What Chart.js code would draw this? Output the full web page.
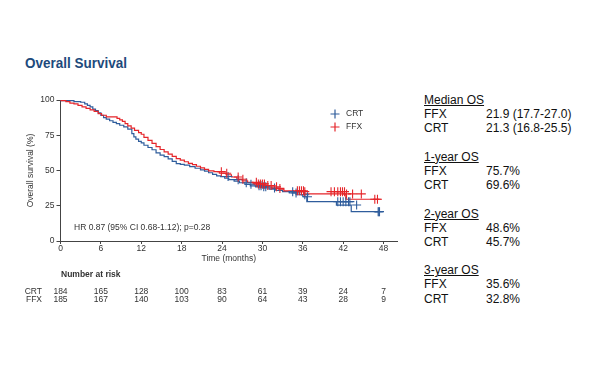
<!DOCTYPE html>
<html lang="en">
<head>
  <meta charset="UTF-8" />
  <title>Overall Survival</title>
  <script src="https://cdn.jsdelivr.net/npm/chart.js"></script>
  <style>
    body {
      margin: 0;
      width: 600px;
      height: 365px;
      background: #ffffff;
      position: relative;
      overflow: hidden;
      font-family: "Liberation Sans", Arial, sans-serif;
    }
    h1 {
      position: absolute;
      left: 25px;
      top: 54px;
      margin: 0;
      font-family: "Liberation Sans", sans-serif;
      font-weight: bold;
      font-size: 15.5px;
      color: #1d4a7c;
      transform: scaleX(0.87);
      transform-origin: left center;
      white-space: nowrap;
    }
    .chart-box {
      position: absolute;
      left: 0;
      top: 80px;
      width: 420px;
      height: 232px;
    }
    .stats {
      position: absolute;
      left: 424px;
      top: 93px;
      font-size: 12px;
      line-height: 14.2px;
      color: #111;
    }
    .stats .row { height: 14.2px; white-space: nowrap; }
    .stats .head { text-decoration: underline; }
    .stats .val { position: absolute; left: 62px; }
  </style>
</head>
<body>
  <h1>Overall Survival</h1>
  <div class="chart-box">
    <canvas id="osChart" width="420" height="232"></canvas>
  </div>
  <div class="stats" id="stats"></div>
  <script>
    // Kaplan-Meier steps (months, % surviving)
    const crtTimes = [0, 2.0, 3.0, 3.6, 4.0, 4.4, 4.8, 5.2, 5.6, 6.0, 6.4, 6.8, 7.3, 7.8, 8.3, 8.8, 9.4, 10.0, 10.6, 10.9, 11.2, 11.6, 12.0, 12.4, 13.0, 13.6, 14.2, 14.8, 15.4, 16.0, 16.6, 17.2, 17.8, 18.4, 19.2, 20.0, 20.8, 21.4, 22.0, 22.6, 23.2, 23.8, 24.4, 25.0, 25.8, 26.6, 27.4, 28.2, 29.0, 30.0, 31.0, 32.0, 33.0, 34.0, 35.0, 36.0, 36.6, 41.0, 43.2, 46.8, 47.5];
    const crtSurv  = [100, 99.5, 98.9, 98.4, 97.3, 96.2, 95.1, 93.5, 92.4, 90.8, 89.1, 87.5, 86.4, 85.3, 84.2, 83.2, 82.1, 81.0, 79.3, 76.1, 73.9, 72.3, 70.7, 69.6, 67.9, 66.3, 64.7, 62.5, 60.9, 59.8, 58.2, 56.5, 54.9, 54.3, 53.8, 52.7, 51.6, 50.5, 49.5, 48.4, 47.3, 46.2, 45.7, 44.6, 43.5, 42.4, 41.3, 40.2, 39.1, 38.4, 37.6, 36.8, 35.9, 35.0, 34.1, 32.8, 31.4, 27.9, 25.5, 20.8, 20.8];
    const ffxTimes = [0, 0.8, 1.4, 2.0, 2.6, 3.2, 3.8, 4.4, 5.0, 5.6, 6.1, 6.8, 8.4, 8.8, 9.2, 9.6, 10.0, 10.5, 11.0, 11.6, 12.0, 12.4, 13.0, 13.6, 14.2, 14.8, 15.4, 16.0, 16.6, 17.2, 17.8, 18.4, 19.0, 19.6, 20.2, 20.8, 21.4, 22.0, 22.8, 23.6, 24.6, 25.4, 26.2, 27.0, 27.8, 28.6, 29.4, 30.4, 31.4, 32.4, 33.2, 34.6, 36.2, 42.4, 46.2, 47.6];
    const ffxSurv  = [100, 99.5, 98.9, 97.8, 97.3, 96.2, 95.1, 94.1, 93.0, 91.9, 90.3, 89.2, 88.1, 87.0, 85.9, 84.9, 83.2, 81.6, 80.0, 78.4, 76.8, 75.7, 73.5, 71.4, 69.2, 67.0, 64.9, 63.2, 61.6, 60.0, 58.4, 57.3, 56.2, 55.1, 54.1, 53.0, 51.9, 50.8, 49.7, 49.2, 48.1, 47.0, 45.4, 43.8, 42.7, 41.6, 40.5, 39.4, 38.4, 37.3, 36.7, 35.6, 35.0, 33.4, 29.6, 29.6];

    // censored observations (months)
    const crtCensor = [24.9, 26.4, 27.6, 28.3, 29.5, 29.8, 30.2, 30.5, 31.8, 34.5, 35.0, 36.3, 36.7, 41.2, 41.6, 42.0, 42.4, 42.8, 43.0, 44.0, 47.2, 47.3, 47.4];
    const ffxCensor = [23.9, 24.7, 26.4, 27.1, 29.1, 29.4, 29.7, 30.0, 30.3, 30.8, 31.3, 32.1, 32.6, 35.2, 35.5, 35.8, 36.1, 36.3, 40.2, 40.7, 41.2, 41.6, 41.9, 42.2, 42.5, 43.4, 44.7, 46.7, 47.1];

    const xTicks = [0, 6, 12, 18, 24, 30, 36, 42, 48];
    const yTicks = [0, 25, 50, 75, 100];

    // number at risk
    const riskTimes = [0, 6, 12, 18, 24, 30, 36, 42, 48];
    const crtRisk = [184, 165, 128, 100, 83, 61, 39, 24, 7];
    const ffxRisk = [185, 167, 140, 103, 90, 64, 43, 28, 9];

    const statBlocks = [
      { head: 'Median OS', ffx: '21.9 (17.7-27.0)', crt: '21.3 (16.8-25.5)' },
      { head: '1-year OS', ffx: '75.7%', crt: '69.6%' },
      { head: '2-year OS', ffx: '48.6%', crt: '45.7%' },
      { head: '3-year OS', ffx: '35.6%', crt: '32.8%' }
    ];

    const blue = '#2f5d9c';
    const red = '#e5252a';
    const textColor = '#333333';
    const font = { family: 'Liberation Sans, Arial, sans-serif', size: 8.5 };

    function survAt(times, surv, t) {
      let s = surv[0];
      for (let i = 0; i < times.length; i++) {
        if (times[i] <= t) s = surv[i];
      }
      return s;
    }

    const stepPts = (times, surv) => times.map((t, i) => ({ x: t, y: surv[i] }));
    const censorPts = (cens, times, surv) => cens.map(t => ({ x: t, y: survAt(times, surv, t) }));

    // stats panel
    let html = '';
    statBlocks.forEach((b, i) => {
      html += `<div class="row head">${b.head}</div>`;
      html += `<div class="row">FFX<span class="val">${b.ffx}</span></div>`;
      html += `<div class="row">CRT<span class="val">${b.crt}</span></div>`;
      if (i < statBlocks.length - 1) html += '<div class="row"></div>';
    });
    document.getElementById('stats').innerHTML = html;

    const extras = {
      id: 'extras',
      afterDraw(chart) {
        const c = chart.ctx;
        const xs = chart.scales.x;
        c.save();
        c.fillStyle = textColor;
        c.font = '8.5px "Liberation Sans", Arial, sans-serif';
        c.textBaseline = 'middle';

        // HR annotation
        c.textAlign = 'left';
        c.fillText('HR 0.87 (95% CI 0.68-1.12); p=0.28', 74, 147.7);

        // legend
        [['CRT', blue, 34], ['FFX', red, 47]].forEach(([lab, col, y]) => {
          c.strokeStyle = col;
          c.lineWidth = 1.2;
          c.beginPath();
          c.moveTo(330.5, y); c.lineTo(339.5, y);
          c.moveTo(335, y - 4.5); c.lineTo(335, y + 4.5);
          c.stroke();
          c.fillStyle = textColor;
          c.fillText(lab, 346, y);
        });

        // number at risk table
        c.font = 'bold 8.5px "Liberation Sans", Arial, sans-serif';
        c.fillText('Number at risk', 61, 195);
        c.font = '8.5px "Liberation Sans", Arial, sans-serif';
        c.textAlign = 'right';
        c.fillText('CRT', 42, 211.5);
        c.fillText('FFX', 42, 219.5);
        c.textAlign = 'center';
        riskTimes.forEach((t, i) => {
          const px = xs.getPixelForValue(t);
          c.fillText(String(crtRisk[i]), px, 211.5);
          c.fillText(String(ffxRisk[i]), px, 219.5);
        });
        c.restore();
      }
    };

    const ctx = document.getElementById('osChart').getContext('2d');
    new Chart(ctx, {
      type: 'line',
      data: {
        datasets: [
          {
            label: 'FFX censored',
            type: 'scatter',
            data: censorPts(ffxCensor, ffxTimes, ffxSurv),
            pointStyle: 'cross',
            pointRadius: 4.5,
            borderWidth: 1.1,
            borderColor: red,
            backgroundColor: red,
            order: 1
          },
          {
            label: 'CRT censored',
            type: 'scatter',
            data: censorPts(crtCensor, crtTimes, crtSurv),
            pointStyle: 'cross',
            pointRadius: 4.5,
            borderWidth: 1.1,
            borderColor: blue,
            backgroundColor: blue,
            order: 2
          },
          {
            label: 'FFX',
            data: stepPts(ffxTimes, ffxSurv),
            stepped: 'after',
            borderColor: red,
            borderWidth: 1.2,
            pointRadius: 0,
            fill: false,
            order: 3
          },
          {
            label: 'CRT',
            data: stepPts(crtTimes, crtSurv),
            stepped: 'after',
            borderColor: blue,
            borderWidth: 1.2,
            pointRadius: 0,
            fill: false,
            order: 4
          }
        ]
      },
      options: {
        responsive: false,
        animation: false,
        layout: { padding: { left: 22, top: 20, right: 23, bottom: 43 } },
        plugins: { legend: { display: false }, tooltip: { enabled: false } },
        scales: {
          x: {
            type: 'linear',
            min: 0,
            max: 50,
            afterBuildTicks: s => { s.ticks = xTicks.map(v => ({ value: v })); },
            afterFit: s => { s.height = 28; },
            border: { color: '#444', width: 1 },
            grid: { drawOnChartArea: false, drawTicks: true, tickLength: 3, color: '#444' },
            ticks: { color: textColor, font: font, padding: 0, maxRotation: 0 },
            title: { display: true, text: 'Time (months)', color: textColor, font: font, padding: { top: 0, bottom: 5 } }
          },
          y: {
            min: 0,
            max: 100,
            afterBuildTicks: s => { s.ticks = yTicks.map(v => ({ value: v })); },
            afterFit: s => { s.width = 38.5; },
            border: { color: '#444', width: 1 },
            grid: { drawOnChartArea: false, drawTicks: true, tickLength: 4, color: '#444' },
            ticks: { color: textColor, font: font, padding: 2 },
            title: { display: true, text: 'Overall survival (%)', color: textColor, font: font, padding: { top: 4, bottom: 0 } }
          }
        }
      },
      plugins: [extras]
    });
  </script>
</body>
</html>
